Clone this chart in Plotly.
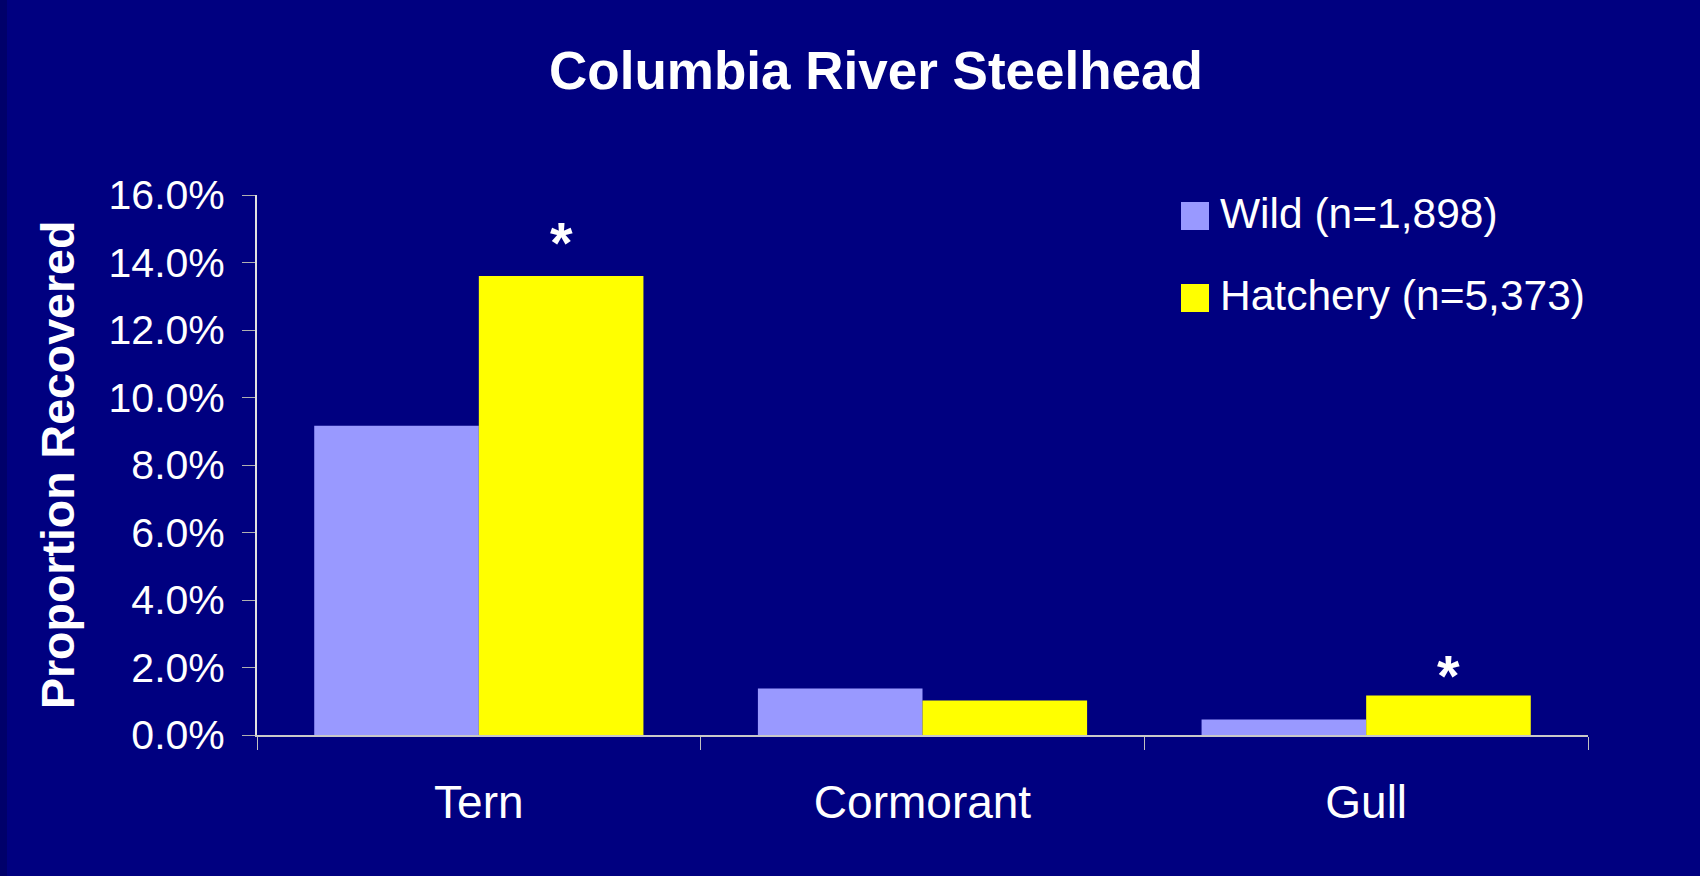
import plotly.graph_objects as go

# ---- data ----
categories = ["Tern", "Cormorant", "Gull"]
series_names = ["Wild (n=1,898)", "Hatchery (n=5,373)"]
wild = [0.0916, 0.0138, 0.0046]
hatchery = [0.1360, 0.0102, 0.0117]
hatchery_significant = [True, False, True]
y_tick_values = [0.0, 0.02, 0.04, 0.06, 0.08, 0.10, 0.12, 0.14, 0.16]
title_text = "Columbia River Steelhead"
y_title_text = "Proportion Recovered"

# ---- style ----
BG = "#000080"
C_WILD = "#9999FF"
C_HATCH = "#FFFF00"
FONT = "Liberation Sans, Arial, sans-serif"
W, H = 1700, 876
ML, MR, MT, MB = 257, 112, 195, 141
PW = W - ML - MR
PH = H - MT - MB
asterisk_yshift = [34, 0, 20]

fig = go.Figure()
fig.add_trace(go.Bar(x=categories, y=wild, name=series_names[0],
                     marker=dict(color=C_WILD, line=dict(width=0)),
                     showlegend=False, hoverinfo="skip"))
fig.add_trace(go.Bar(x=categories, y=hatchery, name=series_names[1],
                     marker=dict(color=C_HATCH, line=dict(width=0)),
                     showlegend=False, hoverinfo="skip"))

annotations = []
# significance asterisks above hatchery bars
cat_px = PW / len(categories)
bar_px = cat_px * (1 - 0.258) / 2
for cat, val, sig, ys in zip(categories, hatchery, hatchery_significant, asterisk_yshift):
    if sig:
        annotations.append(dict(x=cat, y=val, xref="x", yref="y", text="*",
                                showarrow=False, xshift=bar_px / 2, yshift=ys,
                                yanchor="middle",
                                font=dict(family=FONT, size=58, color="white", weight="bold")))

# y-axis title
annotations.append(dict(x=(58 - ML) / PW, y=0.5, xref="paper", yref="paper",
                        text=y_title_text, textangle=-90, showarrow=False,
                        xanchor="center", yanchor="middle",
                        font=dict(family=FONT, size=46.5, color="white", weight="bold")))

# manual legend
shapes = []
legend_colors = [C_WILD, C_HATCH]
legend_top_px = [202, 284]
sw = 28
for name, col, top in zip(series_names, legend_colors, legend_top_px):
    shapes.append(dict(type="rect", xref="paper", yref="paper",
                       x0=(1181 - ML) / PW, x1=(1181 + sw - ML) / PW,
                       y0=(H - MB - (top + sw)) / PH, y1=(H - MB - top) / PH,
                       fillcolor=col, line=dict(width=0)))
    annotations.append(dict(x=(1218 - ML) / PW, y=(H - MB - (top + 11)) / PH,
                            xref="paper", yref="paper", text=name, showarrow=False,
                            xanchor="left", yanchor="middle",
                            font=dict(family=FONT, size=42.5, color="white")))

# darker strip on the left edge
shapes.append(dict(type="rect", xref="paper", yref="paper",
                   x0=-ML / PW, x1=(7 - ML) / PW, y0=-MB / PH, y1=1 + MT / PH,
                   fillcolor="#00006A", line=dict(width=0), layer="below"))

fig.update_layout(
    width=W, height=H,
    margin=dict(l=ML, r=MR, t=MT, b=MB),
    paper_bgcolor=BG, plot_bgcolor=BG,
    barmode="group", bargap=0.258, bargroupgap=0,
    title=dict(text=title_text, x=876 / W, xref="container", xanchor="center",
               y=1 - 70 / H, yref="container", yanchor="middle",
               font=dict(family=FONT, size=53, color="white", weight="bold")),
    xaxis=dict(type="category", showgrid=False, zeroline=False,
               showline=True, linecolor="#C8C8C8", linewidth=2,
               ticks="outside", tickson="boundaries", ticklen=13, tickwidth=1,
               tickcolor="#C0C0C0", ticklabelstandoff=26,
               tickfont=dict(family=FONT, size=46, color="white")),
    yaxis=dict(range=[0, 0.16], tickvals=y_tick_values, tickformat=".1%",
               showgrid=False, zeroline=False, showline=True,
               linecolor="#E0E0E0", linewidth=2,
               ticks="outside", ticklen=13, tickwidth=1, tickcolor="#B0B0B0",
               ticklabelstandoff=9,
               tickfont=dict(family=FONT, size=41, color="white")),
    shapes=shapes,
    annotations=annotations,
    showlegend=False,
)

fig.write_html("out.html",
               config={"displayModeBar": False},
               post_script="document.body.style.margin='0';document.body.style.overflow='hidden';")
